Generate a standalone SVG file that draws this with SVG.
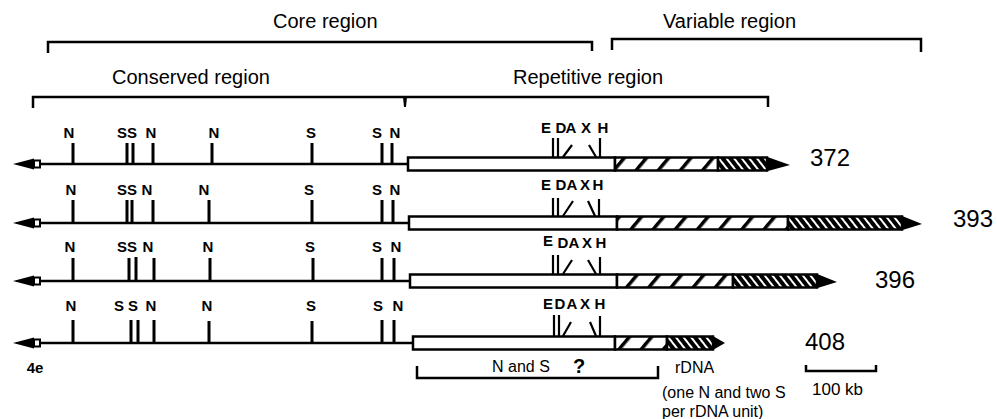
<svg xmlns="http://www.w3.org/2000/svg" width="997" height="419" viewBox="0 0 997 419">
  <defs>
    <!-- wide forward hatch ("/") -->
    <pattern id="hatch-fwd" width="17" height="17" patternUnits="userSpaceOnUse" patternTransform="rotate(40)">
      <rect width="17" height="17" fill="#fff"/>
      <rect x="0" y="0" width="3.5" height="17" fill="#000"/>
    </pattern>
    <!-- dense back hatch ("\") -->
    <pattern id="hatch-back" width="6" height="6" patternUnits="userSpaceOnUse" patternTransform="rotate(-38)">
      <rect width="6" height="6" fill="#000"/>
      <rect x="0" y="0" width="2" height="6" fill="#fff"/>
    </pattern>
    <!-- left end: arrowhead with small open square -->
    <g id="left-end">
      <polygon points="13,0 34,-5.5 34,5.5" fill="#000"/>
      <rect x="34" y="-3.5" width="6" height="7" fill="#fff" stroke="#000" stroke-width="2"/>
    </g>
  </defs>
  <style>
    .line { stroke: #000; stroke-width: 2.5; fill: none; }
    .tick { stroke: #000; stroke-width: 3; fill: none; }
    .cut { stroke: #000; stroke-width: 2.2; fill: none; }
    .box { fill: #fff; stroke: #000; stroke-width: 2.5; }
    .fwd { fill: url(#hatch-fwd); stroke: #000; stroke-width: 2.5; }
    .back { fill: url(#hatch-back); stroke: #000; stroke-width: 2.5; }
    .site { font-family: "Liberation Sans", Arial, sans-serif; font-weight: bold; font-size: 15px; text-anchor: middle; fill: #000; }
    .title { font-family: "Liberation Sans", Arial, sans-serif; font-size: 20px; fill: #000; }
    .num { font-family: "Liberation Sans", Arial, sans-serif; font-size: 24px; fill: #000; }
    .note { font-family: "Liberation Sans", Arial, sans-serif; font-size: 16px; fill: #000; }
  </style>

  <rect width="997" height="419" fill="#fff"/>

  <!-- region brackets -->
  <g id="connectors">
    <text class="title" x="273" y="28">Core region</text>
    <path class="line" d="M48,53 V42 H592 V51"/>
    <text class="title" x="663" y="28">Variable region</text>
    <path class="line" d="M612,50 V39 H921 V52"/>
    <text class="title" x="112" y="84">Conserved  region</text>
    <text class="title" x="513" y="84">Repetitive region</text>
    <path class="line" d="M33,108 V97 H768 V107"/>
    <path d="M403,97 H407 L406,107 H404 Z" fill="#000"/>
    <!-- bracket under the repetitive part of 408 -->
    <path class="line" d="M417,366 V378 H658 V366"/>
    <text class="note" x="492" y="372">N and S</text>
    <text class="note" x="573" y="373" style="font-size:20px;font-weight:bold">?</text>
    <text class="note" x="675" y="373">rDNA</text>
    <text class="note" x="662" y="398">(one N and two S</text>
    <text class="note" x="662" y="417">per rDNA unit)</text>
  </g>

  <!-- chromosome 372 -->
  <g id="row-372">
    <use href="#left-end" x="0" y="164"/>
    <path class="line" d="M40,164 H408"/>
    <path class="tick" d="M73,143V164 M127,143V164 M133,143V164 M153,143V164 M212,143V164 M312,143V164 M382,143V164 M392,143V164"/>
    <text class="site" x="69" y="138">N</text>
    <text class="site" x="122" y="138">S</text>
    <text class="site" x="132" y="138">S</text>
    <text class="site" x="151" y="138">N</text>
    <text class="site" x="214" y="138">N</text>
    <text class="site" x="311" y="138">S</text>
    <text class="site" x="377" y="138">S</text>
    <text class="site" x="395" y="138">N</text>
    <path class="cut" d="M553,138V157 M558,138V157 M563,157 L572,145 M589,145 L596,157 M600,138V157"/>
    <text class="site" x="546" y="133">E</text>
    <text class="site" x="561" y="133">D</text>
    <text class="site" x="571" y="133">A</text>
    <text class="site" x="586" y="133">X</text>
    <text class="site" x="603" y="133">H</text>
    <rect class="box" x="408" y="157.5" width="207" height="13"/>
    <rect class="fwd" x="615" y="157.5" width="103" height="13"/>
    <rect class="back" x="718" y="157.5" width="49" height="13"/>
    <polygon points="766,156.5 790,165 766,171.5" fill="#000"/>
    <text class="num" x="810" y="166">372</text>
  </g>

  <!-- chromosome 393 -->
  <g id="row-393">
    <use href="#left-end" x="0" y="223"/>
    <path class="line" d="M40,223 H409"/>
    <path class="tick" d="M73,200V223 M127,200V223 M132,200V223 M153,200V223 M209,200V223 M312,200V223 M382,200V223 M393,200V223"/>
    <text class="site" x="71" y="195">N</text>
    <text class="site" x="122" y="195">S</text>
    <text class="site" x="132" y="195">S</text>
    <text class="site" x="147" y="195">N</text>
    <text class="site" x="204" y="195">N</text>
    <text class="site" x="309" y="195">S</text>
    <text class="site" x="377" y="195">S</text>
    <text class="site" x="395" y="195">N</text>
    <path class="cut" d="M553,198V216 M558,198V216 M563,216 L573,201 M588,201 L595,216 M599,199V216"/>
    <text class="site" x="546" y="190">E</text>
    <text class="site" x="561" y="190">D</text>
    <text class="site" x="572" y="190">A</text>
    <text class="site" x="585" y="190">X</text>
    <text class="site" x="598" y="190">H</text>
    <rect class="box" x="409" y="216.5" width="208" height="13"/>
    <rect class="fwd" x="617" y="216.5" width="171" height="13"/>
    <rect class="back" x="788" y="216.5" width="114" height="13"/>
    <polygon points="901,215.5 922,224 901,230.5" fill="#000"/>
    <text class="num" x="953" y="227">393</text>
  </g>

  <!-- chromosome 396 -->
  <g id="row-396">
    <use href="#left-end" x="0" y="281"/>
    <path class="line" d="M40,281 H410"/>
    <path class="tick" d="M73,258V281 M129,258V281 M136,257V281 M154,258V281 M210,258V281 M313,258V281 M382,258V281 M394,258V281"/>
    <text class="site" x="70" y="252">N</text>
    <text class="site" x="122" y="252">S</text>
    <text class="site" x="132" y="252">S</text>
    <text class="site" x="148" y="252">N</text>
    <text class="site" x="208" y="252">N</text>
    <text class="site" x="310" y="252">S</text>
    <text class="site" x="377" y="252">S</text>
    <text class="site" x="396" y="252">N</text>
    <path class="cut" d="M553,255V274 M558,255V274 M563,274 L572,260 M588,260 L596,274 M600,257V274"/>
    <text class="site" x="548" y="246">E</text>
    <text class="site" x="563" y="248">D</text>
    <text class="site" x="574" y="248">A</text>
    <text class="site" x="587" y="248">X</text>
    <text class="site" x="601" y="248">H</text>
    <rect class="box" x="410" y="274.5" width="207" height="13"/>
    <rect class="fwd" x="617" y="274.5" width="116" height="13"/>
    <rect class="back" x="733" y="274.5" width="84" height="13"/>
    <polygon points="816,273.5 837,282 816,288.5" fill="#000"/>
    <text class="num" x="875" y="288">396</text>
  </g>

  <!-- chromosome 408 -->
  <g id="row-408">
    <use href="#left-end" x="0" y="343"/>
    <path class="line" d="M40,343 H413"/>
    <path class="tick" d="M73,320V343 M131,320V343 M138,320V343 M154,320V343 M209,321V343 M312,321V343 M382,320V343 M394,320V343"/>
    <text class="site" x="71" y="311">N</text>
    <text class="site" x="119" y="311">S</text>
    <text class="site" x="133" y="311">S</text>
    <text class="site" x="151" y="311">N</text>
    <text class="site" x="207" y="311">N</text>
    <text class="site" x="311" y="311">S</text>
    <text class="site" x="378" y="311">S</text>
    <text class="site" x="398" y="311">N</text>
    <path class="cut" d="M554,315V336 M559,315V336 M563,336 L571,322 M590,322 L596,336 M600,316V336"/>
    <text class="site" x="548" y="309">E</text>
    <text class="site" x="560" y="309">D</text>
    <text class="site" x="572" y="309">A</text>
    <text class="site" x="585" y="309">X</text>
    <text class="site" x="600" y="309">H</text>
    <rect class="box" x="413" y="336.5" width="202" height="13"/>
    <rect class="fwd" x="615" y="336.5" width="52" height="13"/>
    <rect class="back" x="667" y="336.5" width="46" height="13"/>
    <polygon points="712,335.5 725,343 712,350.5" fill="#000"/>
    <text class="num" x="805" y="350">408</text>
    <text class="site" x="35" y="373">4e</text>
  </g>

  <!-- scale bar -->
  <g id="scale-bar">
    <path class="line" d="M806,365 V371 H876 V365"/>
    <text class="note" x="812" y="395" style="font-size:17px">100 kb</text>
  </g>
</svg>
